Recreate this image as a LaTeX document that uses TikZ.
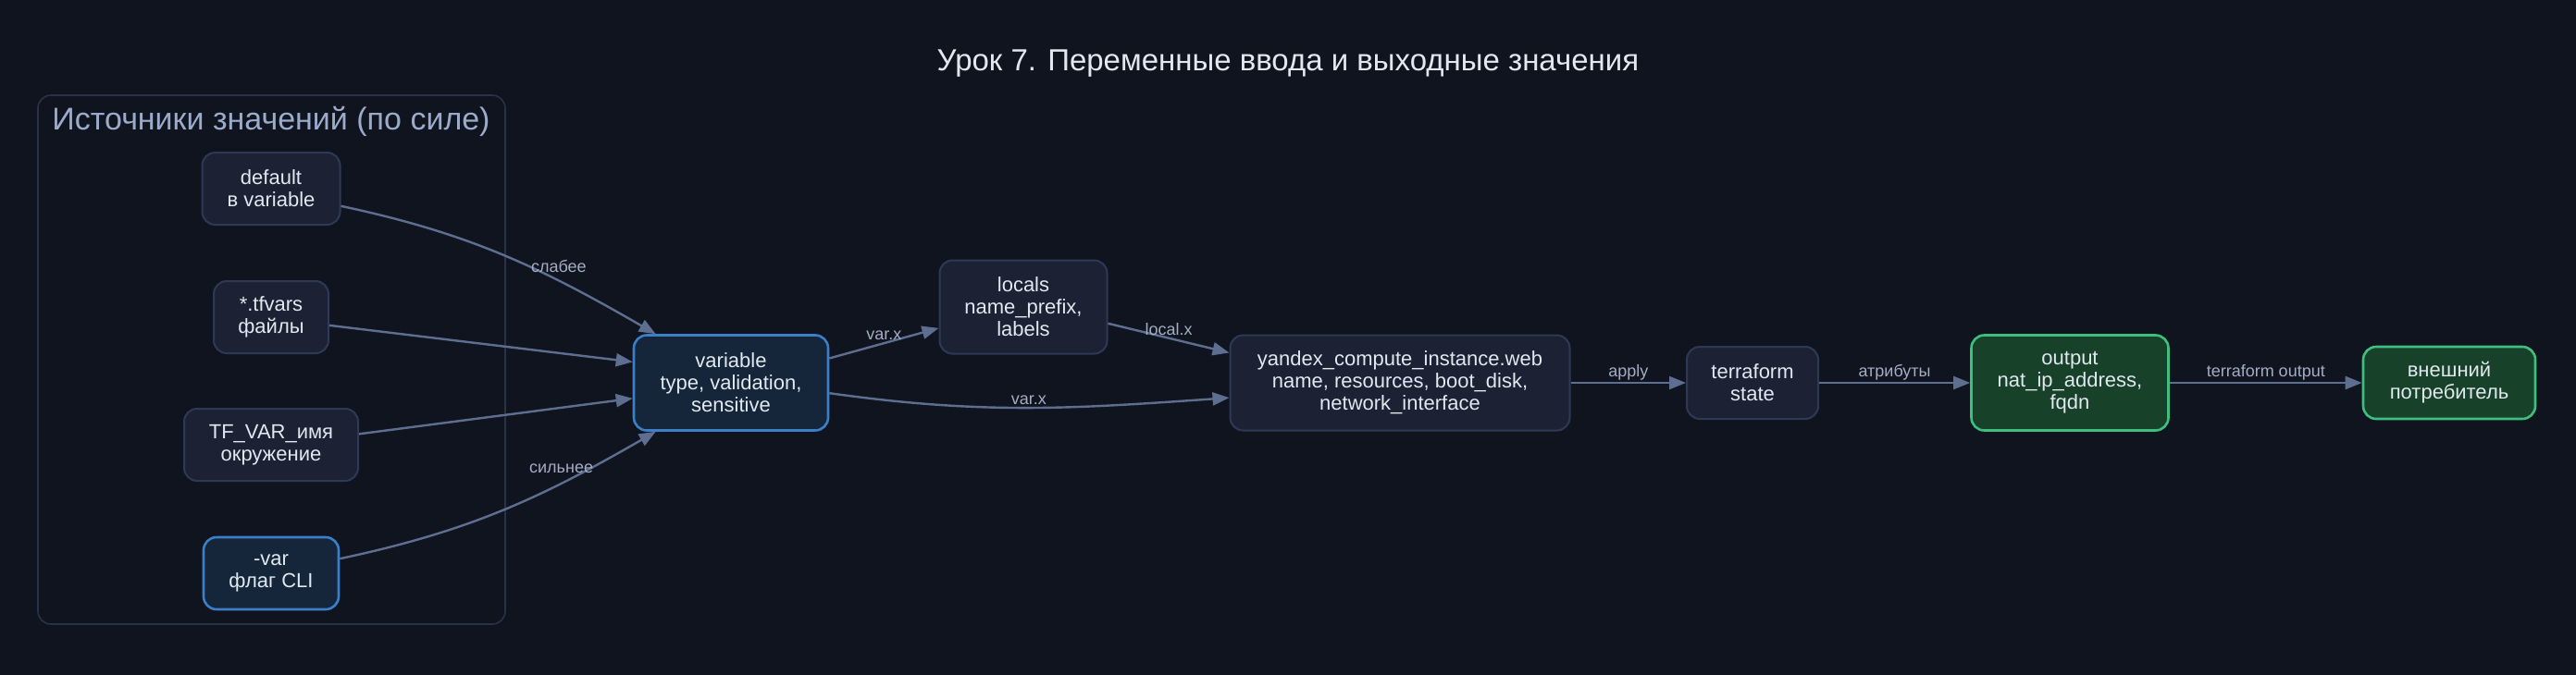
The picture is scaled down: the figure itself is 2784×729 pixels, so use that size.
\documentclass[tikz,border=0pt]{standalone}
\usepackage{fontspec}
\setmainfont{Liberation Sans}
\usepackage{xcolor}
\usetikzlibrary{arrows.meta,positioning}
\definecolor{bgcol}{HTML}{10141F}
\definecolor{boxfill}{HTML}{1C2233}
\definecolor{boxline}{HTML}{2E3A55}
\definecolor{bluefill}{HTML}{15263B}
\definecolor{blueline}{HTML}{3A7FC8}
\definecolor{greenfill}{HTML}{174229}
\definecolor{greenline}{HTML}{3FBF7F}
\definecolor{edgecol}{HTML}{5E6E90}
\definecolor{lblcol}{HTML}{A3AEC4}
\definecolor{txtcol}{HTML}{E2E8F0}
\definecolor{clustline}{HTML}{283249}
\definecolor{clusttxt}{HTML}{9AABCB}

\begin{document}
\begin{tikzpicture}[x=1pt, y=1pt, on grid, node distance=139pt,
  main/.style = {draw=boxline, fill=boxfill, line width=2pt, rounded corners=14pt, text=txtcol, align=center, font=\fontsize{22}{24}\selectfont, minimum height=78pt, inner sep=0pt},
  strong/.style = {main, draw=blueline, fill=bluefill, line width=2.6pt},
  result/.style = {main, draw=greenline, fill=greenfill, line width=2.6pt},
  edge/.style = {draw=edgecol, line width=2.4pt, -{Triangle[length=18pt,width=14pt]}},
  lbl/.style = {text=lblcol, font=\fontsize{18}{20}\selectfont, inner sep=2pt}]
\useasboundingbox (0,0) rectangle (2784,-729);
\fill[bgcol] (-10,10) rectangle (2794,-739);
\node[text=txtcol, font=\fontsize{33}{38}\selectfont] (title) at (1392,-69) {Урок 7. Переменные ввода и выходные значения};
\draw[clustline, line width=1.6pt, rounded corners=14pt] (41,-103) rectangle (546,-675);
\node[text=clusttxt, font=\fontsize{34}{38}\selectfont] (srclabel) at (293,-131) {Источники значений (по силе)};
\node[main, minimum width=149pt] (default) at (293,-204) {default\\в variable};
\node[main, minimum width=124pt] (tfvars) [below=of default] {*.tfvars\\файлы};
\node[main, minimum width=188pt] (envvar) [below=138pt of tfvars] {TF\_VAR\_имя\\окружение};
\node[strong, minimum width=146pt] (cliflag) [below=of envvar] {-var\\флаг CLI};
\node[strong, minimum width=210pt, minimum height=103pt] (variable) at (790,-414) {variable\\type, validation,\\sensitive};
\node[main, minimum width=181pt, minimum height=101pt] (locals) [above right=82pt and 316pt of variable] {locals\\name\_prefix,\\labels};
\node[main, minimum width=367pt, minimum height=103pt] (instance) [right=723pt of variable] {yandex\_compute\_instance.web\\name, resources, boot\_disk,\\network\_interface};
\node[main, minimum width=142pt] (state) [right=381pt of instance] {terraform\\state};
\node[result, minimum width=213pt, minimum height=103pt] (output) [right=343pt of state] {output\\nat\_ip\_address,\\fqdn};
\node[result, minimum width=186pt] (consumer) [right=410pt of output] {внешний\\потребитель};
\draw[edge] (default.-14) to[out=-12,in=150] node[lbl, pos=0.69, above=6pt] {слабее} (variable.147);
\draw[edge] (tfvars.-8) -- (variable.168);
\draw[edge] (envvar.7) -- (variable.189);
\draw[edge] (cliflag.12) to[out=12,in=-150] node[lbl, pos=0.7, above=8pt] {сильнее} (variable.-147);
\draw[edge] (variable.14) -- node[lbl, above] {var.x} (locals.194);
\draw[edge] (locals.-11) -- node[lbl, above] {local.x} (instance.170);
\draw[edge] (variable.-6) to[out=-8,in=184] node[lbl, above] {var.x} (instance.185);
\draw[edge] (instance) -- node[lbl, above] {apply} (state);
\draw[edge] (state) -- node[lbl, above] {атрибуты} (output);
\draw[edge] (output) -- node[lbl, above] {terraform output} (consumer);
\end{tikzpicture}
\end{document}
